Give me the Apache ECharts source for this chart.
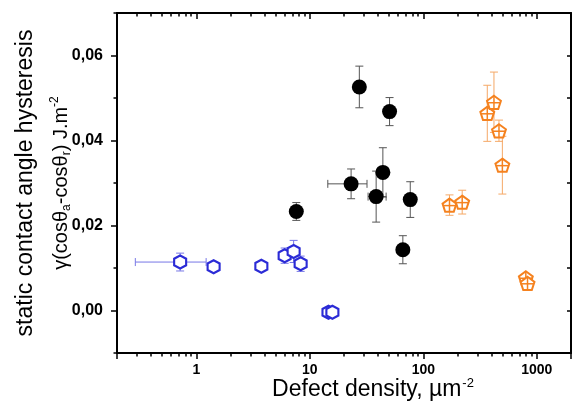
<!DOCTYPE html>
<html>
<head>
<meta charset="utf-8">
<script src="https://cdn.jsdelivr.net/npm/echarts@6.0.0/dist/echarts.min.js"></script>
<style>
  html, body { margin: 0; padding: 0; background: #fff; }
  #chart { width: 573px; height: 402px; }
</style>
</head>
<body>
<div id="chart"></div>
<script>
// 數值皆由圖上目測讀出
const blueX    = [0.72, 1.42, 3.74, 6.0, 7.2, 8.3, 14.6, 15.8];
const blueY    = [0.0114, 0.0103, 0.0104, 0.0129, 0.0139, 0.0110, -0.0004, -0.0004];
const blueErrY = [0.0021, 0.0008, 0.0006, 0.0018, 0.0026, 0.0018, 0.0006, 0.0006];
const blueXLo  = [0.29, 1.42, 3.74, 6.0, 7.2, 8.3, 14.6, 15.8];
const blueXHi  = [1.22, 1.42, 3.74, 6.0, 7.2, 8.3, 14.6, 15.8];

const blackX    = [7.6, 23.1, 27.3, 38.4, 44, 50.4, 66, 76.7];
const blackY    = [0.0233, 0.0298, 0.0526, 0.0268, 0.0325, 0.0468, 0.0143, 0.0261];
const blackErrY = [0.0021, 0.0035, 0.0049, 0.0060, 0.0058, 0.0033, 0.0033, 0.0042];
const blackXLo  = [7.6, 14.4, 27.3, 32.6, 44, 50.4, 66, 76.7];
const blackXHi  = [7.6, 31.9, 27.3, 47, 44, 50.4, 66, 76.7];

const orangeX    = [170, 220, 366, 419, 464, 497, 800, 828];
const orangeY    = [0.0248, 0.0255, 0.0464, 0.0490, 0.0423, 0.0342, 0.0077, 0.0064];
const orangeErrY = [0.0024, 0.0028, 0.0066, 0.0071, 0.0025, 0.0068, 0.0008, 0.0008];

const xMajor = [1, 10, 100, 1000];
const yMajor = [0, 0.02, 0.04, 0.06];
const yMinor = [-0.01, 0.01, 0.03, 0.05, 0.07];

const X_MIN = 0.2, X_MAX = 2000;
const Y_MIN = -0.01, Y_MAX = 0.07;

// 對數軸的次刻度(2..9 × 10^n),放在 log10 空間的輔助軸上
const xMinorLog = [];
for (let e = -1; e <= 3; e++) {
  for (let m = 2; m <= 9; m++) {
    const v = m * Math.pow(10, e);
    if (v >= X_MIN && v <= X_MAX) xMinorLog.push(Math.log10(v));
  }
}

const BLUE = '#2b2bd6', ORANGE = '#f5821f';

function errData(xs, ys, ey, xlo, xhi) {
  return xs.map((x, i) => [x, ys[i], ys[i] - ey[i], ys[i] + ey[i], xlo ? xlo[i] : x, xhi ? xhi[i] : x]);
}

function errSeries(data, color) {
  return {
    type: 'custom',
    xAxisIndex: 0, yAxisIndex: 0,
    z: 2,
    data,
    encode: { x: 0, y: 1 },
    renderItem(params, api) {
      const x = api.value(0), y = api.value(1);
      const lo = api.coord([x, api.value(2)]);
      const hi = api.coord([x, api.value(3)]);
      const style = { stroke: color, lineWidth: 1 };
      const cap = 4;
      const ch = [
        { type: 'line', shape: { x1: lo[0], y1: lo[1], x2: hi[0], y2: hi[1] }, style },
        { type: 'line', shape: { x1: lo[0] - cap, y1: lo[1], x2: lo[0] + cap, y2: lo[1] }, style },
        { type: 'line', shape: { x1: hi[0] - cap, y1: hi[1], x2: hi[0] + cap, y2: hi[1] }, style },
      ];
      const xl = api.value(4), xh = api.value(5);
      if (xl !== xh) {
        const l = api.coord([xl, y]), h = api.coord([xh, y]);
        ch.push({ type: 'line', shape: { x1: l[0], y1: l[1], x2: h[0], y2: h[1] }, style });
        ch.push({ type: 'line', shape: { x1: l[0], y1: l[1] - cap, x2: l[0], y2: l[1] + cap }, style });
        ch.push({ type: 'line', shape: { x1: h[0], y1: h[1] - cap, x2: h[0], y2: h[1] + cap }, style });
      }
      return { type: 'group', children: ch };
    },
  };
}

// 橘色:五邊形內加十字
function pentagonSeries(xs, ys, color) {
  const R = 7.3;
  const pts = [];
  for (let k = 0; k < 5; k++) {
    const a = -Math.PI / 2 + k * 2 * Math.PI / 5;
    pts.push([R * Math.cos(a), R * Math.sin(a)]);
  }
  return {
    type: 'custom', xAxisIndex: 0, yAxisIndex: 0, z: 6,
    data: xs.map((x, i) => [x, ys[i]]),
    encode: { x: 0, y: 1 },
    renderItem(params, api) {
      const c = api.coord([api.value(0), api.value(1)]);
      const cy = c[1] + 0.8;
      const poly = pts.map((p) => [c[0] + p[0], cy + p[1]]);
      const st = { stroke: color, lineWidth: 1.5 };
      return {
        type: 'group',
        children: [
          { type: 'polygon', shape: { points: poly }, style: { fill: '#fff', stroke: color, lineWidth: 2 } },
          { type: 'line', shape: { x1: c[0], y1: cy - R, x2: c[0], y2: cy + R * 0.81 }, style: st },
          { type: 'line', shape: { x1: c[0] - R * 0.88, y1: cy - 0.3, x2: c[0] + R * 0.88, y2: cy - 0.3 }, style: st },
        ],
      };
    },
  };
}

const hexPath = 'path://M0,-10 L8.66,-5 L8.66,5 L0,10 L-8.66,5 L-8.66,-5 Z';

const tickFont = { color: '#000', fontFamily: 'Liberation Sans', fontWeight: 'bold' };
const frameLine = { show: true, onZero: false, lineStyle: { color: '#000', width: 2 } };
const tickStyle = { color: '#000', width: 1.5 };

const chart = echarts.init(document.getElementById('chart'), null, { renderer: 'canvas' });
chart.setOption({
  animation: false,
  backgroundColor: '#fff',
  grid: { left: 117, right: 2, top: 13, bottom: 49, containLabel: false, outerBoundsMode: 'none' },
  xAxis: [
    {
      type: 'log', position: 'bottom', min: X_MIN, max: X_MAX,
      axisLine: frameLine,
      axisTick: { show: true, inside: false, length: 6, lineStyle: tickStyle },
      axisLabel: {
        ...tickFont, fontSize: 14, margin: 10,
        formatter: (v) => xMajor.some((m) => Math.abs(m - v) / m < 1e-6) ? String(Math.round(v)) : '',
      },
      splitLine: { show: false },
      name: '{n|Defect density, µm}{p|-2}',
      nameLocation: 'middle', nameGap: 24, nameMoveOverlap: false,
      nameTextStyle: {
        padding: [0, 0, 0, 58],
        rich: {
          n: { fontFamily: 'Liberation Sans', fontSize: 23, color: '#000', lineHeight: 24, verticalAlign: 'bottom' },
          p: { fontFamily: 'Liberation Sans', fontSize: 13, color: '#000', lineHeight: 24, verticalAlign: 'top', padding: [0, 0, 8, 1] },
        },
      },
    },
    {
      type: 'value', position: 'bottom', min: Math.log10(X_MIN), max: Math.log10(X_MAX),
      axisLine: { show: false, onZero: false },
      axisTick: { show: true, inside: false, length: 3.5, customValues: xMinorLog, lineStyle: tickStyle },
      axisLabel: { show: false }, splitLine: { show: false },
    },
    {
      type: 'log', position: 'top', min: X_MIN, max: X_MAX,
      axisLine: frameLine,
      axisTick: { show: true, inside: true, length: 6, lineStyle: tickStyle },
      axisLabel: { show: false }, splitLine: { show: false },
    },
    {
      type: 'value', position: 'top', min: Math.log10(X_MIN), max: Math.log10(X_MAX),
      axisLine: { show: false, onZero: false },
      axisTick: { show: true, inside: true, length: 3.5, customValues: xMinorLog, lineStyle: tickStyle },
      axisLabel: { show: false }, splitLine: { show: false },
    },
  ],
  yAxis: [
    {
      type: 'value', position: 'left', min: Y_MIN, max: Y_MAX, interval: 0.01,
      axisLine: frameLine,
      axisTick: { show: true, inside: false, length: 6, customValues: yMajor, lineStyle: tickStyle },
      axisLabel: {
        ...tickFont, fontSize: 16, margin: 14, customValues: yMajor,
        formatter: (v) => v.toFixed(2).replace('.', ','),
      },
      splitLine: { show: false },
      name: '{a|static contact angle hysteresis}\n{b|γ(cosθ}{s|a}{b|-cosθ}{s|r}{b|) J.m}{p|-2}',
      nameLocation: 'middle', nameRotate: 90, nameGap: 44, nameMoveOverlap: false,
      nameTextStyle: {
        rich: {
          a: { fontFamily: 'Liberation Sans', fontSize: 23, color: '#000', lineHeight: 46 },
          b: { fontFamily: 'Liberation Sans', fontSize: 20, color: '#000', lineHeight: 24 },
          s: { fontFamily: 'Liberation Sans', fontSize: 12, color: '#000', lineHeight: 12, verticalAlign: 'bottom' },
          p: { fontFamily: 'Liberation Sans', fontSize: 12, color: '#000', lineHeight: 12, verticalAlign: 'top' },
        },
      },
    },
    {
      type: 'value', position: 'left', min: Y_MIN, max: Y_MAX, interval: 0.01,
      axisLine: { show: false, onZero: false },
      axisTick: { show: true, inside: false, length: 3.5, customValues: yMinor, lineStyle: tickStyle },
      axisLabel: { show: false }, splitLine: { show: false },
    },
    {
      type: 'value', position: 'right', min: Y_MIN, max: Y_MAX, interval: 0.01,
      axisLine: frameLine,
      axisTick: { show: true, inside: true, length: 4, lineStyle: tickStyle },
      axisLabel: { show: false }, splitLine: { show: false },
    },
  ],
  series: [
    errSeries(errData(blueX, blueY, blueErrY, blueXLo, blueXHi), '#7777e6'),
    errSeries(errData(blackX, blackY, blackErrY, blackXLo, blackXHi), '#555'),
    errSeries(errData(orangeX, orangeY, orangeErrY), '#f5a866'),
    {
      type: 'scatter', xAxisIndex: 0, yAxisIndex: 0, z: 5,
      data: blueX.map((x, i) => [x, blueY[i]]),
      symbol: hexPath, symbolSize: [12, 13],
      itemStyle: { color: '#fff', borderColor: BLUE, borderWidth: 2.2, opacity: 1 },
    },
    {
      type: 'scatter', xAxisIndex: 0, yAxisIndex: 0, z: 5,
      data: blackX.map((x, i) => [x, blackY[i]]),
      symbol: 'circle', symbolSize: 15,
      itemStyle: { color: '#000', opacity: 1 },
    },
    pentagonSeries(orangeX, orangeY, ORANGE),
  ],
});
</script>
</body>
</html>
